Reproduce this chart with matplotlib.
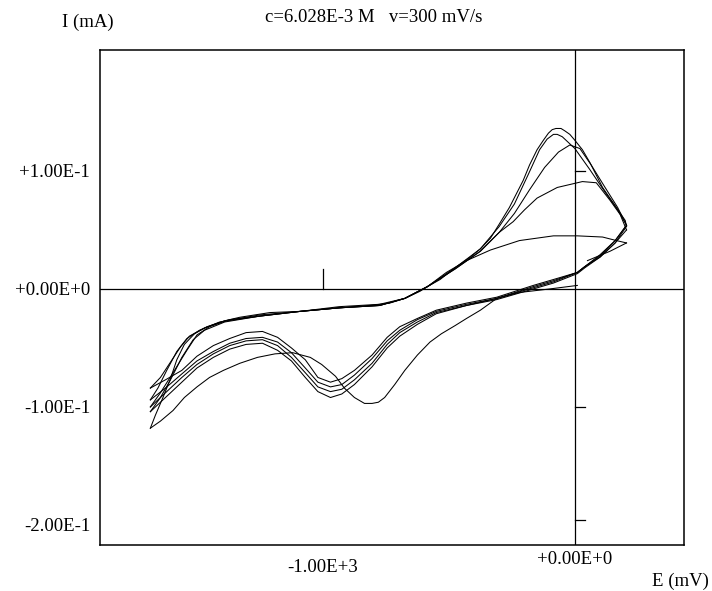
import matplotlib
matplotlib.use("Agg")
import matplotlib.pyplot as plt

# potential in mV, current in mA
# first sweep (starts near 0 mV going negative)
e0 = [10, -100, -220, -310, -375, -430, -475, -530, -575, -625, -675, -715, -755, -780, -805, -835,
      -875, -915, -950, -1005, -1050, -1120, -1190, -1260, -1330, -1395, -1450, -1500, -1550, -1595,
      -1645, -1685]
i0 = [0.003, 0.000, -0.003, -0.008, -0.018, -0.025, -0.031, -0.038, -0.045, -0.056, -0.069, -0.081,
      -0.092, -0.096, -0.097, -0.097, -0.092, -0.084, -0.074, -0.064, -0.058, -0.054, -0.055, -0.058,
      -0.063, -0.069, -0.075, -0.083, -0.092, -0.103, -0.112, -0.118]

# anodic sweeps
ef1 = [-1685, -1665, -1635, -1605, -1580, -1550, -1510, -1460, -1390, -1330, -1210, -1090, -935, -815,
       -735, -675, -615, -585, -535, -475, -415, -375, -335, -300, -260, -205, -180, -150, -125, -105,
       -90, -75, -55, -40, -20, 0, 30, 60, 110, 165, 200, 205]
if1 = [-0.118, -0.107, -0.092, -0.076, -0.060, -0.047, -0.038, -0.032, -0.027, -0.024, -0.020, -0.019,
       -0.016, -0.014, -0.012, -0.008, -0.002, 0.002, 0.008, 0.018, 0.027, 0.034, 0.043, 0.055, 0.069,
       0.092, 0.105, 0.118, 0.126, 0.132, 0.135, 0.136, 0.136, 0.134, 0.131, 0.126, 0.118, 0.107,
       0.086, 0.069, 0.058, 0.053]
ef2 = [-1685, -1645, -1605, -1565, -1530, -1470, -1390, -1250, -1090, -935, -775, -675, -585, -475,
       -375, -300, -240, -185, -140, -110, -85, -70, -50, 0, 60, 120, 170, 205]
if2 = [-0.084, -0.075, -0.062, -0.049, -0.040, -0.033, -0.027, -0.022, -0.019, -0.015, -0.013, -0.008,
       0.002, 0.018, 0.034, 0.053, 0.072, 0.097, 0.118, 0.127, 0.131, 0.131, 0.129, 0.119, 0.101,
       0.082, 0.067, 0.054]
ef3 = [-1685, -1655, -1620, -1580, -1540, -1490, -1410, -1250, -1090, -935, -775, -675, -585, -475,
       -375, -300, -240, -180, -120, -65, -20, 20, 65, 120, 170, 205]
if3 = [-0.094, -0.084, -0.069, -0.053, -0.042, -0.035, -0.028, -0.023, -0.019, -0.016, -0.014, -0.008,
       0.002, 0.017, 0.032, 0.048, 0.064, 0.084, 0.103, 0.116, 0.122, 0.119, 0.105, 0.086, 0.069, 0.054]
ef4 = [-1685, -1645, -1595, -1540, -1500, -1450, -1370, -1250, -1090, -935, -775, -675, -585, -475,
       -375, -300, -245, -200, -150, -70, 30, 85, 140, 180, 205]
if4 = [-0.100, -0.088, -0.071, -0.052, -0.039, -0.032, -0.026, -0.023, -0.019, -0.016, -0.014, -0.008,
       0.002, 0.017, 0.032, 0.048, 0.057, 0.067, 0.077, 0.086, 0.091, 0.090, 0.075, 0.063, 0.050]
ef5 = [-1685, -1645, -1605, -1560, -1515, -1470, -1390, -1250, -1090, -935, -775, -675, -585, -510,
       -430, -335, -220, -85, 10, 110, 165, 205]
if5 = [-0.104, -0.092, -0.077, -0.058, -0.043, -0.035, -0.028, -0.023, -0.019, -0.016, -0.014, -0.008,
       0.002, 0.014, 0.024, 0.033, 0.041, 0.045, 0.045, 0.044, 0.041, 0.039]

# cathodic sweeps (same potentials for all of them)
er = [205, 160, 100, 40, 10, -85, -165, -310, -430, -550, -625, -695, -745, -805, -875, -925, -970,
      -1020, -1070, -1125, -1180, -1240, -1305, -1370, -1435, -1500, -1560, -1625, -1685]
ir1 = [0.053, 0.039, 0.027, 0.019, 0.014, 0.008, 0.003, -0.007, -0.012, -0.018, -0.025, -0.032,
       -0.041, -0.056, -0.069, -0.076, -0.079, -0.075, -0.060, -0.050, -0.041, -0.036, -0.037, -0.042,
       -0.048, -0.057, -0.069, -0.077, -0.084]
ir2 = [0.054, 0.041, 0.029, 0.019, 0.014, 0.007, 0.002, -0.008, -0.013, -0.019, -0.026, -0.035,
       -0.044, -0.059, -0.073, -0.081, -0.083, -0.079, -0.067, -0.054, -0.045, -0.041, -0.042, -0.046,
       -0.053, -0.061, -0.072, -0.084, -0.094]
ir3 = [0.054, 0.041, 0.028, 0.019, 0.014, 0.006, 0.001, -0.008, -0.014, -0.020, -0.028, -0.037,
       -0.047, -0.063, -0.077, -0.085, -0.087, -0.083, -0.071, -0.058, -0.048, -0.043, -0.044, -0.048,
       -0.055, -0.064, -0.075, -0.088, -0.100]
ir4 = [0.050, 0.039, 0.027, 0.018, 0.013, 0.005, 0.000, -0.009, -0.014, -0.021, -0.030, -0.040,
       -0.050, -0.066, -0.081, -0.089, -0.092, -0.087, -0.075, -0.061, -0.052, -0.046, -0.047, -0.051,
       -0.058, -0.067, -0.079, -0.092, -0.104]

# end of the last sweep
e_end = [205, 140, 50]
i_end = [0.039, 0.032, 0.024]

yticks = [0.1, 0.0, -0.1, -0.2]
ylabels = ["+1.00E-1", "+0.00E+0", "-1.00E-1", "-2.00E-1"]
xticks = [-1000, 0]
xlabels = ["-1.00E+3", "+0.00E+0"]

plt.rcParams['font.family'] = ['Liberation Serif', 'DejaVu Serif']
fs = 13.5

fig = plt.figure(figsize=(7.12, 5.91), dpi=100)
ax = fig.add_axes([0.1404, 0.0778, 0.8202, 0.8376])
ax.set_xlim(-1885, 433)
ax.set_ylim(-0.217, 0.2025)

sweeps = [(e0, i0), (ef1, if1), (er, ir1), (ef2, if2), (er, ir2), (ef3, if3), (er, ir3),
          (ef4, if4), (er, ir4), (ef5, if5), (e_end, i_end)]
for e, i in sweeps:
    ax.plot(e, i, color='black', lw=0.75, solid_joinstyle='round')

# axes through the origin with their small ticks
ax.axhline(0, color='black', lw=0.9)
ax.axvline(0, color='black', lw=0.9)
ax.plot([xticks[0], xticks[0]], [0, 0.017], color='black', lw=0.9)
for y in [0.1, -0.1, -0.196]:
    ax.plot([0, 40], [y, y], color='black', lw=0.9)

for s in ax.spines.values():
    s.set_linewidth(1.1)

ax.set_yticks(yticks)
ax.set_yticklabels(ylabels, fontsize=fs)
ax.tick_params(axis='y', length=0, pad=7)
ax.set_xticks([])

trans = ax.get_xaxis_transform()
ax.text(xticks[0], -0.045, xlabels[0], transform=trans, ha='center', va='center', fontsize=fs)
ax.text(xticks[1], -0.03, xlabels[1], transform=trans, ha='center', va='center', fontsize=fs)

fig.text(652 / 712, 1 - 581 / 591, "E (mV)", ha='left', va='center', fontsize=fs)
fig.text(88 / 712, 1 - 22 / 591, "I (mA)", ha='center', va='center', fontsize=fs)
fig.text(374 / 712, 1 - 17 / 591, "c=6.028E-3 M   v=300 mV/s", ha='center', va='center', fontsize=fs)

plt.savefig("out.png", dpi=100)
